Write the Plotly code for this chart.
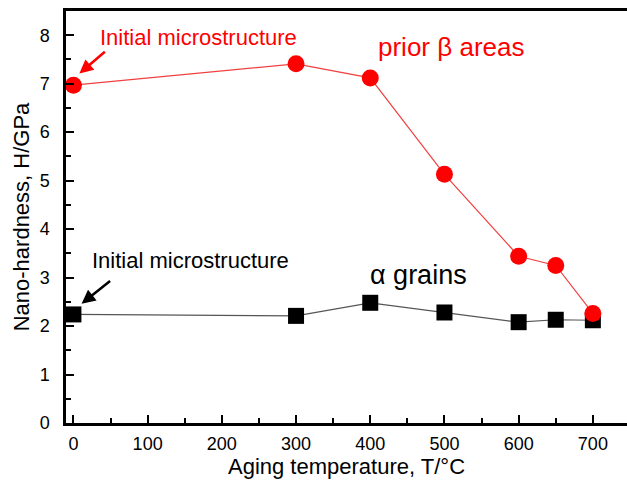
import plotly.graph_objects as go

# Aging temperature (°C) and measured nano-hardness (GPa)
temps = [0, 300, 400, 500, 600, 650, 700]
beta_hardness = [6.97, 7.41, 7.12, 5.13, 3.44, 3.25, 2.26]
alpha_hardness = [2.24, 2.21, 2.48, 2.28, 2.08, 2.13, 2.12]

x_ticks = [0, 100, 200, 300, 400, 500, 600, 700]
y_ticks = [0, 1, 2, 3, 4, 5, 6, 7, 8]

FONT = "Arial, Liberation Sans, sans-serif"

fig = go.Figure()

fig.add_trace(go.Scatter(
    x=temps, y=alpha_hardness, mode="lines+markers",
    line=dict(color="#555555", width=1.2),
    marker=dict(symbol="square", size=16, color="black"),
    cliponaxis=False, showlegend=False,
))
fig.add_trace(go.Scatter(
    x=temps, y=beta_hardness, mode="lines+markers",
    line=dict(color="#f04040", width=1.2),
    marker=dict(symbol="circle", size=17, color="#ff0000"),
    cliponaxis=False, showlegend=False,
))

# Text labels
fig.add_annotation(x=33, y=7.96, text="Initial microstructure", showarrow=False,
                   xanchor="left", yanchor="middle",
                   font=dict(family=FONT, size=22, color="#ff0000"))
fig.add_annotation(x=408, y=7.75, text="prior β areas", showarrow=False,
                   xanchor="left", yanchor="middle",
                   font=dict(family=FONT, size=26, color="#ff0000"))
fig.add_annotation(x=22.5, y=3.36, text="Initial microstructure", showarrow=False,
                   xanchor="left", yanchor="middle",
                   font=dict(family=FONT, size=22, color="black"))
fig.add_annotation(x=397, y=3.05, text="α grains", showarrow=False,
                   xanchor="left", yanchor="middle",
                   font=dict(family=FONT, size=27, color="black"))

# Arrows pointing at the initial-state points
fig.add_annotation(x=8, y=7.21, text="", showarrow=True, ax=27, ay=-23,
                   arrowhead=2, arrowsize=1.1, arrowwidth=2.5, arrowcolor="#ff0000")
fig.add_annotation(x=11, y=2.46, text="", showarrow=True, ax=30, ay=-24,
                   arrowhead=2, arrowsize=1.1, arrowwidth=2.5, arrowcolor="black")

fig.update_xaxes(
    range=[-10, 746], tickvals=x_ticks, ticks="inside", ticklen=8, tickwidth=2,
    tickcolor="black", showline=True, linewidth=2.5, linecolor="black", mirror=True,
    showgrid=False, zeroline=False, ticklabelstandoff=3,
    minor=dict(dtick=50, tick0=0, ticks="inside", ticklen=5, tickwidth=2, tickcolor="black"),
    tickfont=dict(family=FONT, size=18, color="black"),
    title=dict(text="Aging temperature, T/°C", font=dict(family=FONT, size=22, color="black"),
               standoff=2),
)
fig.update_yaxes(
    range=[0, 8.5], tickvals=y_ticks, ticks="inside", ticklen=8, tickwidth=2,
    tickcolor="black", showline=True, linewidth=2.5, linecolor="black",
    showgrid=False, zeroline=False, ticklabelstandoff=10,
    minor=dict(dtick=0.5, tick0=0, ticks="inside", ticklen=5, tickwidth=2, tickcolor="black"),
    tickfont=dict(family=FONT, size=18, color="black"),
    title=dict(text="Nano-hardness, H/GPa", font=dict(family=FONT, size=22, color="black"),
               standoff=4),
)

fig.update_layout(
    width=627, height=480,
    margin=dict(l=66, r=0, t=11, b=57),
    plot_bgcolor="white", paper_bgcolor="white",
)

fig.write_html("out.html")
